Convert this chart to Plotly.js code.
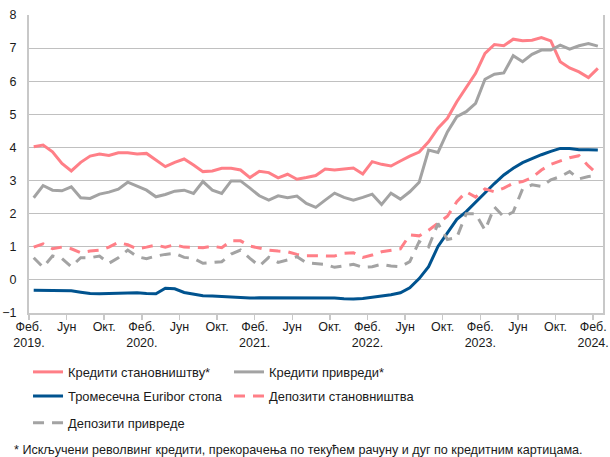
<!DOCTYPE html>
<html>
<head>
<meta charset="utf-8">
<script src="https://cdn.plot.ly/plotly-3.0.1.min.js"></script>
<style>
html,body{margin:0;padding:0;background:#fff;}
#chart{width:610px;height:457px;}
</style>
</head>
<body>
<div id="chart"></div>
<script>
// Monthly observations, Feb 2019 .. Feb 2024 (61 months)
var monthIndex = [];
for (var k = 0; k < 61; k++) monthIndex.push(k);

var householdLoans = [4.02,4.07,3.87,3.52,3.29,3.55,3.74,3.80,3.76,3.84,3.84,3.80,3.82,3.62,3.42,3.55,3.65,3.47,3.27,3.29,3.37,3.37,3.32,3.09,3.28,3.24,3.08,3.19,3.04,3.09,3.15,3.35,3.32,3.35,3.38,3.20,3.57,3.49,3.44,3.59,3.74,3.86,4.17,4.58,4.88,5.38,5.83,6.24,6.84,7.11,7.07,7.27,7.22,7.24,7.32,7.22,6.59,6.40,6.28,6.11,6.39];

var corporateLoans = [2.48,2.85,2.71,2.69,2.81,2.48,2.46,2.59,2.65,2.74,2.95,2.82,2.71,2.51,2.58,2.68,2.71,2.61,2.97,2.71,2.61,2.99,2.99,2.77,2.54,2.41,2.54,2.48,2.53,2.31,2.19,2.41,2.62,2.49,2.41,2.49,2.59,2.28,2.62,2.44,2.66,2.95,3.92,3.85,4.47,4.93,5.08,5.33,6.06,6.21,6.25,6.77,6.59,6.81,6.94,6.94,7.09,6.97,7.07,7.14,7.06];

var euribor3m = [-0.31,-0.31,-0.31,-0.31,-0.33,-0.37,-0.41,-0.42,-0.41,-0.40,-0.40,-0.39,-0.41,-0.42,-0.25,-0.27,-0.38,-0.44,-0.48,-0.49,-0.51,-0.52,-0.54,-0.55,-0.54,-0.54,-0.54,-0.54,-0.54,-0.55,-0.55,-0.55,-0.55,-0.57,-0.58,-0.56,-0.53,-0.50,-0.45,-0.39,-0.24,0.04,0.40,1.01,1.43,1.83,2.06,2.35,2.64,2.91,3.17,3.37,3.54,3.67,3.78,3.88,3.97,3.97,3.93,3.93,3.92];

var householdDeposits = [0.99,1.09,0.94,0.99,0.94,0.82,0.87,0.90,0.99,1.13,1.06,0.94,0.99,1.05,0.99,1.06,0.99,0.97,0.97,1.02,0.97,1.18,1.18,1.02,0.95,0.90,0.87,0.85,0.77,0.73,0.73,0.73,0.72,0.80,0.82,0.68,0.75,0.85,0.90,0.94,1.36,1.33,1.50,1.70,1.92,2.36,2.66,2.50,2.75,2.66,2.77,2.92,2.97,3.09,3.32,3.49,3.60,3.69,3.75,3.44,3.19];

var corporateDeposits = [0.67,0.38,0.72,0.65,0.40,0.67,0.67,0.72,0.50,0.67,0.90,0.70,0.64,0.72,0.77,0.80,0.68,0.65,0.50,0.52,0.55,0.78,0.90,0.65,0.42,0.68,0.53,0.60,0.70,0.52,0.50,0.47,0.38,0.43,0.47,0.38,0.40,0.47,0.42,0.40,0.55,1.16,1.00,1.70,1.22,1.28,2.00,2.00,1.50,2.20,1.90,2.05,2.75,2.87,2.82,3.02,3.12,3.27,3.05,3.12,3.15];

var seriesNames = ["Кредити становништву*","Кредити привреди*","Тромесечна Euribor стопа","Депозити становништва","Депозити привреде"];

var tickPositions = [-0.5,3.5,7.5,11.5,15.5,19.5,23.5,27.5,31.5,35.5,39.5,43.5,47.5,51.5,55.5,59.5];
var tickLabels = ["Феб.<br>2019.","Јун","Окт.","Феб.<br>2020.","Јун","Окт.","Феб.<br>2021.","Јун","Окт.","Феб.<br>2022.","Јун","Окт.","Феб.<br>2023.","Јун","Окт.","Феб.<br>2024."];

var footnote = "* Искључени револвинг кредити, прекорачења по текућем рачуну и дуг по кредитним картицама.";

var PINK = "#ff7f87", GREY = "#a3a3a3", BLUE = "#00538f";

var traces = [
  {x: monthIndex, y: householdLoans, name: seriesNames[0], mode: "lines", line: {color: PINK, width: 3}, legend: "legend"},
  {x: monthIndex, y: corporateLoans, name: seriesNames[1], mode: "lines", line: {color: GREY, width: 3}, legend: "legend2"},
  {x: monthIndex, y: euribor3m, name: seriesNames[2], mode: "lines", line: {color: BLUE, width: 3}, legend: "legend3"},
  {x: monthIndex, y: householdDeposits, name: seriesNames[3], mode: "lines", line: {color: PINK, width: 3, dash: "11px,8px"}, legend: "legend4"},
  {x: monthIndex, y: corporateDeposits, name: seriesNames[4], mode: "lines", line: {color: GREY, width: 3, dash: "11px,8px"}, legend: "legend5"}
];

var FONT = "Liberation Sans, Arial, sans-serif";
function lg(x, y) {
  return {x: x, y: y, xanchor: "left", yanchor: "middle", orientation: "v",
          bgcolor: "rgba(0,0,0,0)", borderwidth: 0,
          font: {family: FONT, size: 12.9, color: "#1a1a1a"}};
}

var layout = {
  width: 610, height: 457,
  margin: {l: 29, r: 7, t: 15, b: 144, pad: 0},
  paper_bgcolor: "#ffffff", plot_bgcolor: "#ffffff",
  font: {family: FONT, size: 12, color: "#1a1a1a"},
  showlegend: true,
  xaxis: {
    range: [-0.5, 60.55], tickmode: "array", tickvals: tickPositions, ticktext: tickLabels,
    showgrid: false, zeroline: false, showline: true, linecolor: "#c8c8c8", linewidth: 1.5,
    ticks: "outside", ticklen: 5, tickcolor: "#c8c8c8", tickwidth: 1.5,
    ticklabelstandoff: -4,
    tickfont: {family: FONT, size: 12.5, color: "#1a1a1a"}, tickangle: 0
  },
  yaxis: {
    range: [-1, 8], dtick: 1, tick0: 0,
    showgrid: true, gridcolor: "#c0c0c0", gridwidth: 1,
    zeroline: false, showline: true, mirror: true, linecolor: "#c8c8c8", linewidth: 2,
    ticks: "", ticklabelstandoff: 8,
    tickfont: {family: FONT, size: 12.5, color: "#1a1a1a"}
  },
  legend: lg(-0.0017, -0.1980),
  legend2: lg(0.3484, -0.1980),
  legend3: lg(-0.0017, -0.2790),
  legend4: lg(0.3484, -0.2790),
  legend5: lg(-0.0017, -0.3690),
  annotations: [{
    text: footnote, xref: "paper", yref: "paper", x: -0.0296, y: -0.4597,
    xanchor: "left", yanchor: "middle", showarrow: false,
    font: {family: FONT, size: 12.6, color: "#1a1a1a"}
  }]
};

Plotly.newPlot("chart", traces, layout, {staticPlot: true, displayModeBar: false});
</script>
</body>
</html>
